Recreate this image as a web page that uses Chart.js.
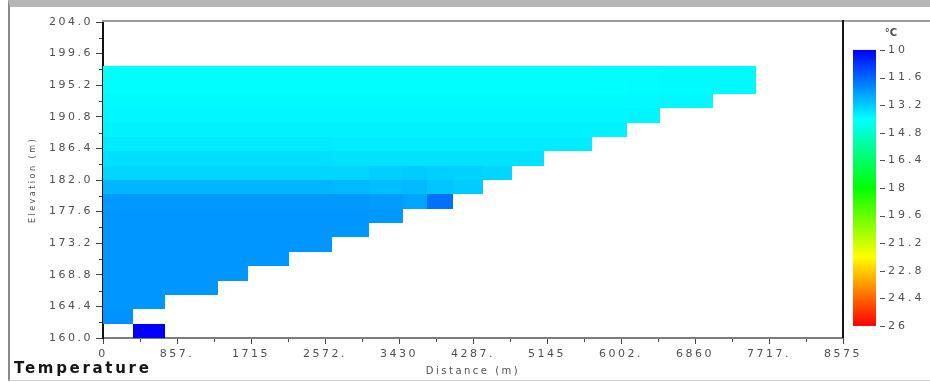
<!DOCTYPE html>
<html>
<head>
<meta charset="utf-8">
<script src="https://cdn.jsdelivr.net/npm/chart.js@4.4.1/dist/chart.umd.min.js"></script>
<style>
  html, body { margin: 0; padding: 0; background: #fff; }
  #wrap { position: relative; width: 930px; height: 382px; overflow: hidden; }
  #frame {
    position: absolute; left: 8px; top: 0; width: 922px; height: 381px;
    border-top: 7px solid #b6b6b6; border-left: 2px solid #8a8a8a;
    border-bottom: 1px solid #d4d4d4; box-sizing: border-box;
  }
  #chart { position: absolute; left: 0; top: 0; }
  #ptitle {
    position: absolute; left: 14px; top: 361px;
    font: bold 15px "DejaVu Sans"; line-height: 15px;
    letter-spacing: 2.7px; color: #151515; white-space: nowrap;
  }
</style>
</head>
<body>
<div id="wrap">
  <div id="frame"></div>
  <canvas id="chart" width="930" height="382"></canvas>
  <div id="ptitle">Temperature</div>
</div>
<script>
"use strict";

// segment boundaries along the reservoir (m)
var segEdges = [0, 342, 724, 1327, 1675, 2150, 2648, 3088, 3482, 3760, 4050,
  4398, 4745, 5116, 5661, 6067, 6449, 7063, 7570];

// layer boundaries (m), bottom to top, last one is the water surface
var layerEdges = [160, 162, 164, 166, 168, 170, 172, 174, 176, 178, 180,
  182, 184, 186, 188, 190, 192, 194, 196, 197.9];

// temperature per layer (bottom to top), one value per segment,
// null = dry cell, segments past the end of a row are dry
var temps = [
  [null, 10.0],                                                        // 160-162
  [12.3],                                                              // 162-164
  [12.35, 12.35],                                                      // 164-166
  [12.35, 12.35, 12.35],                                               // 166-168
  [12.35, 12.35, 12.35, 12.35],                                        // 168-170
  [12.35, 12.35, 12.35, 12.35, 12.35],                                 // 170-172
  [12.35, 12.35, 12.35, 12.35, 12.35, 12.35],                          // 172-174
  [12.35, 12.35, 12.35, 12.35, 12.35, 12.35, 12.35],                   // 174-176
  [12.35, 12.35, 12.35, 12.35, 12.35, 12.35, 12.35, 12.37],            // 176-178
  [12.4, 12.4, 12.4, 12.4, 12.4, 12.4, 12.4, 12.45, 12.55, 11.75],     // 178-180
  [12.85, 12.85, 12.85, 12.85, 12.85, 12.85, 12.9, 13.0, 12.95, 13.1, 13.2], // 180-182
  [13.35, 13.35, 13.35, 13.35, 13.35, 13.35, 13.35, 13.25, 13.2, 13.25, 13.3, 13.35], // 182-184
  [13.5, 13.5, 13.5, 13.5, 13.5, 13.5, 13.55, 13.55, 13.55, 13.55, 13.55, 13.55, 13.55], // 184-186
  [13.68, 13.68, 13.68, 13.68, 13.68, 13.68, 13.7, 13.7, 13.7, 13.7, 13.7, 13.7, 13.7, 13.72], // 186-188
  [13.8, 13.8, 13.8, 13.8, 13.8, 13.8, 13.8, 13.8, 13.8, 13.8, 13.8, 13.8, 13.8, 13.8, 13.8], // 188-190
  [13.88, 13.88, 13.88, 13.88, 13.88, 13.88, 13.88, 13.88, 13.88, 13.88, 13.88, 13.88, 13.88, 13.88, 13.88, 13.86], // 190-192
  [13.94, 13.94, 13.94, 13.94, 13.94, 13.94, 13.94, 13.94, 13.94, 13.94, 13.94, 13.94, 13.94, 13.94, 13.94, 13.92, 13.9], // 192-194
  [13.98, 13.98, 13.98, 13.98, 13.98, 13.98, 13.98, 13.98, 13.98, 13.98, 13.98, 13.98, 13.98, 13.98, 13.97, 13.96, 13.94, 13.92], // 194-196
  [14.0, 14.0, 14.0, 14.0, 14.0, 14.0, 14.0, 14.0, 14.0, 14.0, 14.0, 14.0, 14.0, 14.0, 13.99, 13.98, 13.96, 13.94]  // 196-surface
];

var xTickVals = [0, 857.5, 1715, 2572.5, 3430, 4287.5, 5145, 6002.5, 6860, 7717.5, 8575];
var xTickLabels = ["0", "857.", "1715", "2572.", "3430", "4287.", "5145", "6002.", "6860", "7717.", "8575"];

var yTickVals = [160, 164.4, 168.8, 173.2, 177.6, 182, 186.4, 190.8, 195.2, 199.6, 204];
var yTickLabels = ["160.0", "164.4", "168.8", "173.2", "177.6", "182.0", "186.4", "190.8", "195.2", "199.6", "204.0"];

var cTickVals = [10, 11.6, 13.2, 14.8, 16.4, 18, 19.6, 21.2, 22.8, 24.4, 26];
var cTickLabels = ["10", "11.6", "13.2", "14.8", "16.4", "18", "19.6", "21.2", "22.8", "24.4", "26"];

// colour map stops (degC) and colours
var cmapStops = [10, 14, 18, 22, 26];
var cmapColors = [[0, 0, 255], [0, 255, 255], [0, 255, 0], [255, 255, 0], [255, 0, 0]];

var FONT = "DejaVu Sans";
var TXT = "#505050";

function rgb(c) {
  return "rgb(" + c[0] + "," + c[1] + "," + c[2] + ")";
}

function tempColor(t) {
  if (t <= cmapStops[0]) return rgb(cmapColors[0]);
  for (var i = 1; i < cmapStops.length; i++) {
    if (t <= cmapStops[i]) {
      var f = (t - cmapStops[i - 1]) / (cmapStops[i] - cmapStops[i - 1]);
      var a = cmapColors[i - 1], b = cmapColors[i];
      return rgb([0, 1, 2].map(function (k) {
        return Math.round(a[k] + (b[k] - a[k]) * f);
      }));
    }
  }
  return rgb(cmapColors[cmapColors.length - 1]);
}

// wide lettering like the original
var spacingPlugin = {
  id: "spacing",
  beforeUpdate: function (chart) { chart.ctx.letterSpacing = "2.5px"; },
  beforeDraw: function (chart) { chart.ctx.letterSpacing = "2.5px"; }
};

var cellPlugin = {
  id: "cells",
  beforeDatasetsDraw: function (chart) {
    var ctx = chart.ctx, a = chart.chartArea;
    var x = chart.scales.x, y = chart.scales.y;
    ctx.save();
    ctx.beginPath();
    ctx.rect(a.left, a.top, a.right - a.left, a.bottom - a.top);
    ctx.clip();
    temps.forEach(function (row, r) {
      var yTop = Math.round(y.getPixelForValue(layerEdges[r + 1]));
      var yBot = Math.round(y.getPixelForValue(layerEdges[r]));
      row.forEach(function (t, c) {
        if (t === null) return;
        var x0 = Math.round(x.getPixelForValue(segEdges[c]));
        var x1 = Math.round(x.getPixelForValue(segEdges[c + 1]));
        ctx.fillStyle = tempColor(t);
        ctx.fillRect(x0, yTop, x1 - x0, yBot - yTop);
      });
    });
    ctx.restore();
  }
};

var framePlugin = {
  id: "frame",
  afterDraw: function (chart) {
    var ctx = chart.ctx, a = chart.chartArea;
    var x = chart.scales.x, y = chart.scales.y, c = chart.scales.c;
    var i, p;
    ctx.save();

    // top rule and right border
    ctx.fillStyle = "#9c9c9c";
    ctx.fillRect(a.left - 1, a.top - 2, chart.width - a.left + 1, 2);
    ctx.fillStyle = "#151515";
    ctx.fillRect(Math.round(a.right) - 1, a.top - 2, 2, a.bottom - a.top + 2);

    // minor ticks
    ctx.strokeStyle = "#444";
    ctx.lineWidth = 1;
    ctx.beginPath();
    for (i = 0; i < xTickVals.length - 1; i++) {
      p = Math.round(x.getPixelForValue((xTickVals[i] + xTickVals[i + 1]) / 2)) + 0.5;
      ctx.moveTo(p, a.bottom + 1);
      ctx.lineTo(p, a.bottom + 4);
    }
    for (i = 0; i < yTickVals.length - 1; i++) {
      p = Math.round(y.getPixelForValue((yTickVals[i] + yTickVals[i + 1]) / 2)) + 0.5;
      ctx.moveTo(a.left - 4, p);
      ctx.lineTo(a.left - 1, p);
    }
    ctx.stroke();

    // colour bar
    var cbLeft = Math.round(a.right) + 10, cbWidth = 23;
    var top = c.getPixelForValue(cTickVals[0]);
    var bot = c.getPixelForValue(cTickVals[cTickVals.length - 1]);
    var g = ctx.createLinearGradient(0, top, 0, bot);
    cmapStops.forEach(function (s, k) {
      g.addColorStop((s - cmapStops[0]) / (cmapStops[cmapStops.length - 1] - cmapStops[0]), rgb(cmapColors[k]));
    });
    ctx.fillStyle = g;
    ctx.fillRect(cbLeft, top, cbWidth, bot - top);

    ctx.fillStyle = TXT;
    ctx.font = "11px '" + FONT + "'";
    ctx.letterSpacing = "3px";
    ctx.textAlign = "left";
    ctx.textBaseline = "middle";
    cTickVals.forEach(function (v, k) {
      var py = c.getPixelForValue(v);
      ctx.fillRect(cbLeft + 27, Math.round(py), 5, 1);
      ctx.fillText(cTickLabels[k], cbLeft + 35, py);
    });
    ctx.font = "bold 10px '" + FONT + "'";
    ctx.letterSpacing = "0px";
    ctx.textAlign = "center";
    ctx.fillText("\u00B0C", cbLeft + 38, top - 17);
    ctx.restore();
  }
};

var chart = new Chart(document.getElementById("chart"), {
  type: "scatter",
  data: { datasets: [] },
  options: {
    responsive: false,
    animation: false,
    events: [],
    layout: { padding: { top: 22, right: 87, left: 0, bottom: 0 } },
    plugins: {
      legend: { display: false },
      tooltip: { enabled: false }
    },
    scales: {
      x: {
        type: "linear",
        position: "bottom",
        min: 0,
        max: 8575,
        afterBuildTicks: function (s) {
          s.ticks = xTickVals.map(function (v) { return { value: v }; });
        },
        afterFit: function (s) { s.height = 44; },
        ticks: {
          autoSkip: false,
          maxRotation: 0,
          padding: 4,
          color: TXT,
          font: { family: FONT, size: 11 },
          callback: function (v, i) { return xTickLabels[i]; }
        },
        grid: { drawOnChartArea: false, tickLength: 6, tickColor: "#444", tickWidth: 1 },
        border: { color: "#7c7c7c", width: 2 },
        title: {
          display: true,
          text: "Distance (m)",
          color: TXT,
          font: { family: FONT, size: 10 },
          padding: { top: 0, bottom: 5 }
        }
      },
      y: {
        type: "linear",
        position: "left",
        min: 160,
        max: 204,
        afterBuildTicks: function (s) {
          s.ticks = yTickVals.map(function (v) { return { value: v }; });
        },
        afterFit: function (s) { s.width = 103; },
        ticks: {
          autoSkip: false,
          padding: 3,
          color: TXT,
          font: { family: FONT, size: 11 },
          callback: function (v, i) { return yTickLabels[i]; }
        },
        grid: { drawOnChartArea: false, tickLength: 7, tickColor: "#444", tickWidth: 1 },
        border: { color: "#111", width: 2 },
        title: {
          display: true,
          text: "Elevation (m)",
          color: TXT,
          font: { family: FONT, size: 8 },
          padding: { top: 28, bottom: 0 }
        }
      },
      c: {
        type: "linear",
        display: false,
        position: "right",
        reverse: true,
        min: 8.38,
        max: 26.7
      }
    }
  },
  plugins: [spacingPlugin, cellPlugin, framePlugin]
});
</script>
</body>
</html>
